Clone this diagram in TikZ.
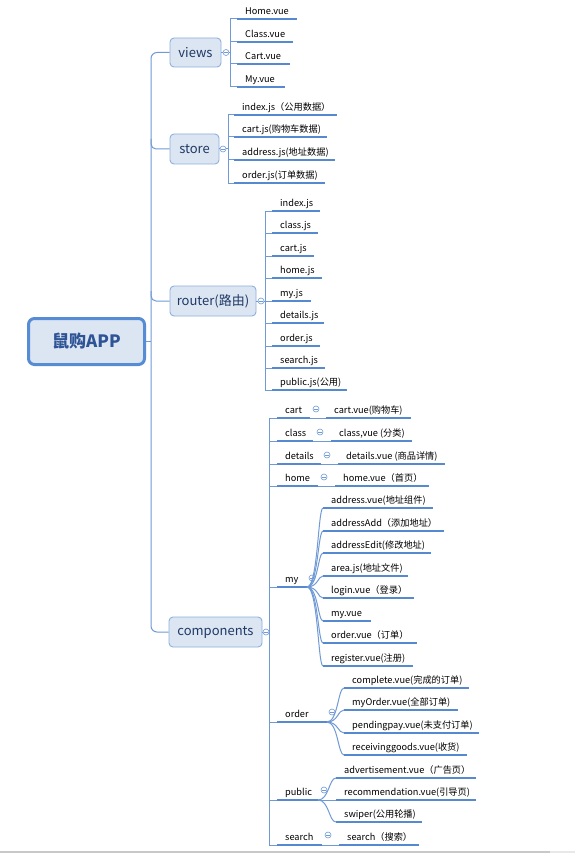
\documentclass[tikz,border=0pt]{standalone}
\usepackage{fontspec}
\setmainfont{Noto Sans CJK SC}
\definecolor{conncol}{RGB}{112,154,214}
\definecolor{ulcol}{RGB}{86,137,208}
\definecolor{nodefill}{RGB}{220,230,242}
\definecolor{nodedraw}{RGB}{141,176,222}
\definecolor{rootdraw}{RGB}{85,140,212}
\definecolor{roottext}{RGB}{46,84,150}
\definecolor{lvltext}{RGB}{31,56,100}
\definecolor{barcol}{RGB}{200,200,200}
\definecolor{barcolb}{RGB}{232,232,232}
\tikzset{
  conn/.style={draw=conncol, line width=1pt},
  ul/.style={draw=ulcol, line width=1.8pt},
  leaf/.style={anchor=base west, inner sep=0pt, font=\fontsize{9.2}{10}\selectfont, text=black},
  lvl/.style={draw=nodedraw, fill=nodefill, line width=0.9pt, rounded corners=4pt, inner sep=0pt, font=\fontsize{13}{14}\selectfont, text=lvltext},
  rootbox/.style={draw=rootdraw, fill=nodefill, line width=3pt, rounded corners=6pt, inner sep=0pt, minimum width=116pt, minimum height=46pt, font=\bfseries\fontsize{17}{18}\selectfont, text=roottext},
  tog/.style={circle, draw=conncol, fill=white, line width=0.6pt, minimum size=6pt, inner sep=0pt,
    path picture={\draw[conncol, line width=0.6pt] ([xshift=-1.7pt]path picture bounding box.center) -- ([xshift=1.7pt]path picture bounding box.center);}},
}
% \leafx{name}{spine x}{text x}{underline y}{end x}{text}
\newcommand\leafx[6]{%
  \node[leaf] (#1) at (#3,#4-4.5) {#6};
  \draw[conn] (#2,#4) -- (#3-8,#4);
  \draw[ul] (#3-8,#4) -- (#5,#4);
}
% \cleafx{name}{start x}{start y}{mid x}{text x}{underline y}{end x}{text}
\newcommand\cleafx[8]{%
  \node[leaf] (#1) at (#5,#6-4.5) {#8};
  \draw[conn] (#2,#3) .. controls (#4,#3) and (#4,#6) .. (#5-8,#6);
  \draw[ul] (#5-8,#6) -- (#7,#6);
}
% \labx{name}{text x}{underline y}{end x}{text}
\newcommand\labx[5]{%
  \node[leaf] (#1) at (#2,#3-4.5) {#5};
  \draw[conn] (269,#3) -- (#2-8,#3);
  \draw[ul] (#2-8,#3) -- (#4,#3);
}
\begin{document}
\begin{tikzpicture}[x=1pt,y=-1pt]
\useasboundingbox (0,0) rectangle (575,853);
\fill[white] (0,0) rectangle (575,853);
\fill[barcol] (0,850.5) rectangle (550,853);
\fill[barcolb] (550,850.5) rectangle (575,853);

% root and level-1 nodes
\node[rootbox] (root) at (86.5,341.5) {鼠购APP};
\node[lvl, minimum width=51pt, minimum height=29pt] (views) at (195.5,52.5) {views};
\node[lvl, minimum width=49pt, minimum height=30pt] (store) at (194.5,149) {store};
\node[lvl, minimum width=86pt, minimum height=30pt] (router) at (213,301) {router(路由)};
\node[lvl, minimum width=93pt, minimum height=30pt] (components) at (215.5,632) {components};

% trunk
\coordinate (ttop) at (151,52.5);
\coordinate (tbot) at (151,632);
\draw[conn, rounded corners=6pt] (views.west) -- (ttop) -- (tbot) -- (components.west);
\draw[conn, rounded corners=5pt] (151,139) |- (store.west);
\draw[conn, rounded corners=5pt] (151,291) |- (router.west);
\draw[conn] (root.east) -- (151,341.5);

% toggles of level 1
\node[tog] (tv) at (226,52.5) {};
\node[tog] (ts) at (223,149) {};
\node[tog] (tr) at (261,301) {};
\node[tog] (tc) at (266,632) {};
\draw[conn] (views.east) -- (tv.west);
\draw[conn] (store.east) -- (ts.west);
\draw[conn] (router.east) -- (tr.west);
\draw[conn] (components.east) -- (tc.west);
\draw[conn] (tv.east) -- (230,52.5);
\draw[conn] (ts.east) -- (228,149);
\draw[conn] (tr.east) -- (265,301);

% views
\draw[conn] (230,19) -- (230,87);
\leafx{v1}{230}{245}{19}{297}{Home.vue}
\leafx{v2}{230}{245}{42}{293}{Class.vue}
\leafx{v3}{230}{245}{64}{290}{Cart.vue}
\leafx{v4}{230}{245}{87}{285}{My.vue}

% store
\draw[conn] (228,115) -- (228,183);
\leafx{s1}{228}{242}{115}{337}{index.js（公用数据）}
\leafx{s2}{228}{242}{137}{327}{cart.js(购物车数据)}
\leafx{s3}{228}{242}{160}{335}{address.js(地址数据)}
\leafx{s4}{228}{242}{183}{325}{order.js(订单数据)}

% router
\draw[conn] (265,211) -- (265,390);
\leafx{r1}{265}{280}{211}{320}{index.js}
\leafx{r2}{265}{280}{233}{318}{class.js}
\leafx{r3}{265}{280}{256}{314}{cart.js}
\leafx{r4}{265}{280}{278}{322}{home.js}
\leafx{r5}{265}{280}{301}{311}{my.js}
\leafx{r6}{265}{280}{323}{324}{details.js}
\leafx{r7}{265}{280}{346}{320}{order.js}
\leafx{r8}{265}{280}{368}{325}{search.js}
\leafx{r9}{265}{280}{390}{347}{public.js(公用)}

% components
\draw[conn] (269,418) -- (269,845);
\labx{ccart}{285}{418}{310}{cart}
\labx{cclass}{285}{441}{313}{class}
\labx{cdetails}{285}{464}{321}{details}
\labx{chome}{285}{486}{318}{home}
\labx{cmy}{285}{587}{307}{my}
\labx{corder}{285}{722}{327}{order}
\labx{cpublic}{285}{800}{318}{public}
\labx{csearch}{285}{845}{322}{search}

\node[tog] (tcart) at (316,409) {};
\node[tog] (tclass) at (320,432) {};
\node[tog] (tdetails) at (327,455) {};
\node[tog] (thome) at (324,477) {};
\node[tog] (tmy) at (312,578) {};
\node[tog] (torder) at (332,712) {};
\node[tog] (tpublic) at (324,790) {};
\node[tog] (tsearch) at (328,835) {};

\leafx{cart1}{310}{334}{418}{411}{cart.vue(购物车)}
\leafx{class1}{313}{339}{441}{412}{class,vue (分类)}
\leafx{details1}{321}{346}{464}{445}{details.vue (商品详情)}
\leafx{home1}{318}{343}{486}{429}{home.vue（首页）}
\leafx{search1}{322}{347}{845}{419}{search（搜索）}

% my
\cleafx{m1}{307}{587}{318}{331}{508}{433}{address.vue(地址组件)}
\cleafx{m2}{307}{587}{318}{331}{531}{444}{addressAdd（添加地址）}
\cleafx{m3}{307}{587}{318}{331}{553}{431}{addressEdit(修改地址)}
\cleafx{m4}{307}{587}{318}{331}{576}{408}{area.js(地址文件)}
\cleafx{m5}{307}{587}{318}{331}{598}{414}{login.vue（登录）}
\cleafx{m6}{307}{587}{318}{331}{621}{371}{my.vue}
\cleafx{m7}{307}{587}{318}{331}{643}{417}{order.vue（订单）}
\cleafx{m8}{307}{587}{318}{331}{666}{413}{register.vue(注册)}

% order
\cleafx{o1}{327}{722}{338}{352}{688}{469}{complete.vue(完成的订单)}
\cleafx{o2}{327}{722}{338}{352}{710}{458}{myOrder.vue(全部订单)}
\cleafx{o3}{327}{722}{338}{352}{733}{479}{pendingpay.vue(未支付订单)}
\cleafx{o4}{327}{722}{338}{352}{755}{467}{receivinggoods.vue(收货)}

% public
\cleafx{p1}{318}{800}{329}{344}{778}{476}{advertisement.vue（广告页）}
\cleafx{p2}{318}{800}{329}{344}{800}{476}{recommendation.vue(引导页)}
\cleafx{p3}{318}{800}{329}{344}{822}{422}{swiper(公用轮播)}
\end{tikzpicture}
\end{document}
